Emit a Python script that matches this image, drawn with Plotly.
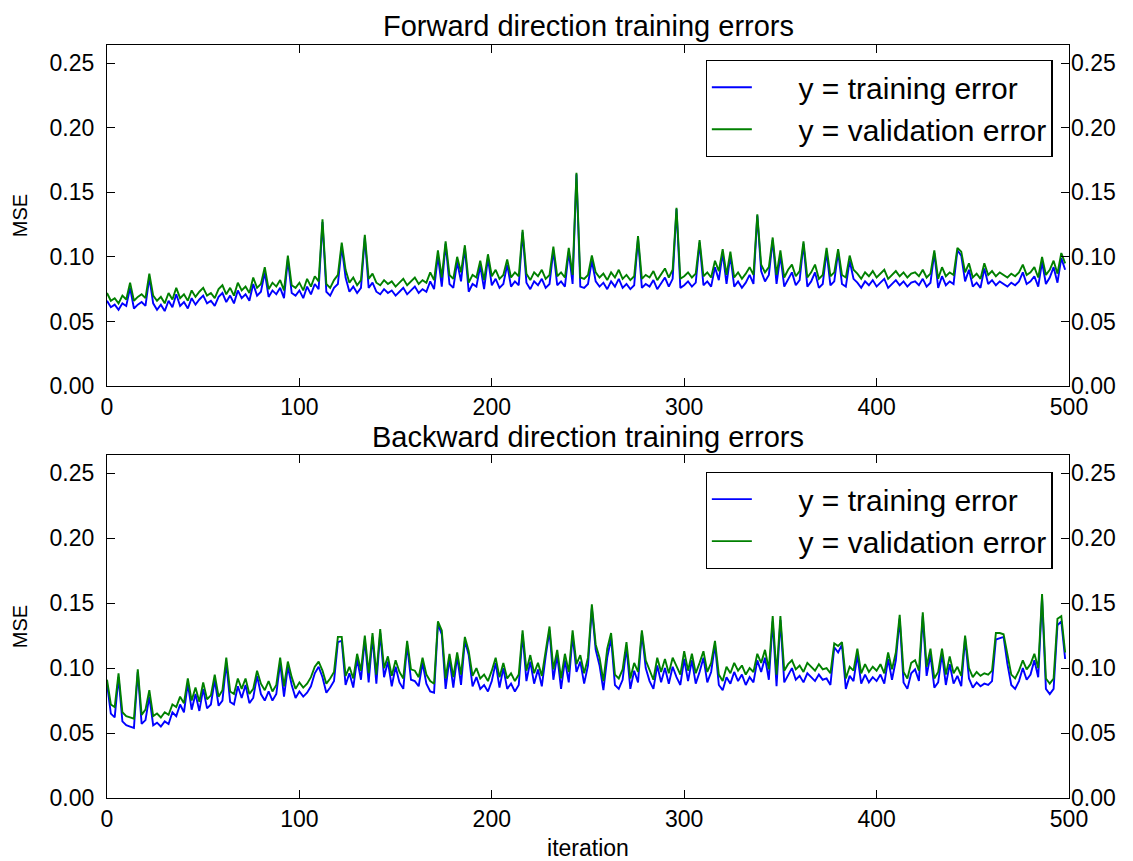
import plotly.graph_objects as go

iterations = list(range(0, 500, 2))

# Forward direction (top) – values in thousandths of MSE
fwd_val_milli = [
    72, 66, 68, 64, 70, 67, 80, 66, 69, 71,
    68, 87, 70, 66, 69, 64, 72, 67, 76, 68,
    71, 66, 74, 69, 73, 76, 70, 72, 68, 75,
    78, 71, 76, 70, 80, 74, 77, 72, 84, 76,
    79, 92, 75, 80, 77, 82, 74, 101, 78, 76,
    80, 74, 83, 77, 85, 81, 129, 79, 76, 82,
    86, 111, 90, 80, 84, 78, 82, 117, 83, 87,
    80, 78, 82, 79, 81, 77, 80, 83, 78, 81,
    84, 79, 82, 80, 88, 82, 105, 84, 112, 86,
    83, 100, 88, 109, 80, 86, 84, 97, 82, 102,
    85, 90, 83, 86, 98, 84, 88, 85, 121, 87,
    82, 88, 85, 90, 83, 86, 108, 85, 88, 84,
    107, 86, 165, 84, 83, 86, 101, 88, 84, 87,
    82, 88, 84, 90, 83, 86, 82, 85, 116, 83,
    86, 84, 89, 82, 87, 91, 84, 90, 138, 83,
    85, 88, 84, 87, 113, 85, 88, 84, 97, 89,
    106, 86, 104, 84, 88, 83, 87, 92, 86, 133,
    94, 88, 92, 115, 86, 105, 84, 90, 94, 85,
    89, 112, 84, 88, 94, 83, 86, 107, 85, 88,
    106, 86, 84, 101, 90, 87, 83, 88, 85, 89,
    84, 87, 90, 83, 86, 89, 85, 88, 84, 87,
    88, 85, 90, 84, 87, 105, 83, 92, 85, 88,
    86, 107, 104, 88, 95, 84, 87, 83, 95, 86,
    89, 85, 88, 86, 84, 87, 85, 88, 94, 86,
    88, 92, 84, 100, 86, 90, 97, 87, 103, 95,
]
fwd_train_milli = [
    66, 61, 63, 59, 64, 62, 76, 60, 63, 65,
    62, 84, 64, 59, 63, 58, 66, 61, 71, 62,
    65, 60, 68, 63, 67, 70, 64, 66, 62, 69,
    72, 65, 70, 64, 74, 68, 71, 66, 79, 70,
    73, 88, 69, 74, 71, 76, 68, 98, 72, 70,
    74, 68, 77, 71, 79, 75, 127, 73, 70, 76,
    79, 108, 84, 73, 77, 72, 76, 115, 76, 80,
    73, 71, 75, 72, 74, 70, 73, 76, 71, 74,
    77, 72, 75, 73, 81, 75, 101, 77, 110, 79,
    76, 96, 81, 107, 73, 79, 77, 93, 75, 99,
    78, 83, 76, 79, 94, 77, 81, 78, 119, 80,
    75, 81, 78, 83, 76, 79, 105, 78, 81, 77,
    104, 79, 164, 77, 76, 79, 97, 81, 77, 80,
    75, 81, 77, 83, 76, 79, 75, 78, 114, 76,
    79, 77, 82, 75, 80, 84, 77, 83, 137, 76,
    78, 81, 77, 80, 111, 78, 81, 77, 92, 82,
    103, 79, 101, 77, 81, 76, 80, 86, 79, 132,
    89, 81, 86, 113, 79, 101, 77, 83, 88, 78,
    82, 110, 77, 81, 88, 76, 79, 104, 78, 81,
    104, 79, 77, 97, 83, 80, 76, 81, 78, 82,
    77, 80, 83, 76, 79, 82, 78, 81, 77, 80,
    81, 78, 83, 77, 80, 103, 76, 85, 78, 81,
    79, 105, 101, 81, 90, 77, 80, 76, 91, 79,
    82, 78, 81, 79, 77, 80, 78, 81, 88, 79,
    81, 85, 77, 96, 79, 84, 92, 80, 99, 90,
]

# Backward direction (bottom) – values in thousandths of MSE
bwd_val_milli = [
    91, 72, 70, 96, 66, 63, 62, 61, 99, 64,
    68, 83, 63, 65, 62, 66, 64, 72, 70, 78,
    73, 92, 75, 85, 74, 89, 76, 79, 95, 78,
    83, 108, 82, 80, 92, 84, 92, 80, 84, 98,
    88, 83, 90, 82, 87, 108, 86, 105, 93, 84,
    89, 85, 88, 93, 101, 105, 98, 88, 92, 97,
    124, 124, 94, 101, 92, 111, 98, 125, 96, 127,
    95, 130, 100, 109, 94, 106, 97, 92, 121, 99,
    98, 93, 108, 95, 90, 88, 136, 129, 92, 111,
    93, 112, 95, 124, 113, 94, 100, 92, 95, 90,
    98, 108, 93, 104, 92, 96, 90, 95, 129, 98,
    110, 96, 104, 94, 113, 132, 99, 114, 92, 111,
    97, 129, 103, 110, 96, 108, 149, 118, 108, 90,
    115, 127, 95, 92, 99, 120, 92, 104, 97, 129,
    106, 98, 91, 108, 97, 107, 96, 108, 101, 95,
    113, 98, 111, 96, 104, 113, 97, 104, 121, 95,
    90, 101, 96, 104, 98, 102, 95, 100, 97, 111,
    104, 114, 99, 140, 95, 140, 98, 103, 106, 99,
    102, 97, 104, 101, 98, 103, 99, 100, 96, 119,
    117, 120, 92, 101, 98, 115, 96, 103, 97, 101,
    98, 103, 96, 112, 99, 112, 141, 97, 92, 104,
    106, 98, 143, 101, 115, 92, 97, 115, 95, 109,
    96, 101, 94, 125, 100, 93, 97, 94, 96, 95,
    98, 127, 127, 126, 110, 95, 92, 98, 106, 99,
    103, 111, 100, 157, 92, 88, 92, 138, 140, 112,
]
bwd_train_milli = [
    88, 65, 62, 93, 59, 56, 55, 54, 97, 57,
    60, 78, 56, 58, 55, 59, 57, 66, 63, 72,
    66, 88, 68, 80, 67, 84, 69, 72, 91, 71,
    75, 104, 74, 72, 86, 77, 87, 73, 77, 94,
    80, 75, 82, 75, 80, 104, 78, 101, 87, 77,
    82, 78, 81, 86, 96, 101, 93, 81, 85, 90,
    120, 121, 87, 96, 85, 107, 91, 122, 89, 124,
    88, 127, 93, 105, 86, 101, 89, 84, 118, 91,
    90, 86, 104, 88, 82, 81, 134, 126, 84, 107,
    85, 109, 87, 121, 110, 86, 93, 84, 87, 82,
    90, 104, 85, 100, 84, 88, 82, 87, 126, 90,
    105, 88, 99, 86, 109, 129, 91, 110, 84, 106,
    89, 125, 97, 105, 88, 102, 146, 114, 102, 83,
    108, 123, 87, 84, 91, 116, 84, 98, 89, 127,
    100, 90, 84, 102, 89, 100, 88, 101, 93, 87,
    107, 90, 106, 88, 97, 108, 89, 97, 118, 87,
    83, 93, 88, 97, 90, 95, 87, 93, 89, 106,
    97, 108, 91, 136, 86, 137, 89, 95, 100, 91,
    94, 89, 96, 93, 90, 95, 91, 92, 87, 116,
    112, 118, 84, 94, 90, 110, 88, 95, 89, 93,
    90, 95, 88, 107, 91, 106, 138, 89, 84, 96,
    99, 90, 140, 94, 110, 85, 89, 111, 87, 103,
    88, 94, 86, 123, 92, 85, 89, 86, 88, 87,
    90, 122, 123, 124, 103, 87, 84, 90, 100, 91,
    95, 106, 93, 154, 84, 80, 84, 133, 136, 107,
]

fwd_val = [v / 1000 for v in fwd_val_milli]
fwd_train = [v / 1000 for v in fwd_train_milli]
bwd_val = [v / 1000 for v in bwd_val_milli]
bwd_train = [v / 1000 for v in bwd_train_milli]

y_ticks = [0.0, 0.05, 0.10, 0.15, 0.20, 0.25]
y_tick_text = ["0.00", "0.05", "0.10", "0.15", "0.20", "0.25"]
x_ticks = [0, 100, 200, 300, 400, 500]
y_range = [0, 0.264]
x_range = [0, 500]

series_names = ["y = training error", "y = validation error"]
PAD = "\u00a0" * 5

BLUE = "#0000ff"
GREEN = "#008000"
FONT = "Liberation Sans, Arial, sans-serif"
LW = 1.9

fig = go.Figure()

# top subplot
fig.add_trace(go.Scatter(x=iterations, y=fwd_train, mode="lines", name=PAD + series_names[0],
                         line=dict(color=BLUE, width=LW), xaxis="x", yaxis="y", legend="legend"))
fig.add_trace(go.Scatter(x=iterations, y=fwd_val, mode="lines", name=PAD + series_names[1],
                         line=dict(color=GREEN, width=LW), xaxis="x", yaxis="y", legend="legend"))
fig.add_trace(go.Scatter(x=iterations, y=fwd_val, mode="lines", opacity=0, showlegend=False,
                         hoverinfo="skip", line=dict(width=0), xaxis="x", yaxis="y3"))
# bottom subplot
fig.add_trace(go.Scatter(x=iterations, y=bwd_train, mode="lines", name=PAD + series_names[0],
                         line=dict(color=BLUE, width=LW), xaxis="x2", yaxis="y2", legend="legend2"))
fig.add_trace(go.Scatter(x=iterations, y=bwd_val, mode="lines", name=PAD + series_names[1],
                         line=dict(color=GREEN, width=LW), xaxis="x2", yaxis="y2", legend="legend2"))
fig.add_trace(go.Scatter(x=iterations, y=bwd_val, mode="lines", opacity=0, showlegend=False,
                         hoverinfo="skip", line=dict(width=0), xaxis="x2", yaxis="y4"))

TICKFONT = dict(family=FONT, size=23, color="black")

xcommon = dict(range=x_range, tickvals=x_ticks, ticks="inside", ticklen=8, tickcolor="black",
               showline=True, linecolor="black", linewidth=1.2, mirror="ticks",
               showgrid=False, zeroline=False, tickfont=TICKFONT, automargin=False)
yleft = dict(range=y_range, tickvals=y_ticks, ticktext=y_tick_text, ticks="inside", ticklen=8,
             tickcolor="black", showline=True, linecolor="black", linewidth=1.2, mirror=True,
             showgrid=False, zeroline=False, tickfont=TICKFONT, ticklabelstandoff=7,
             automargin=False,
             title=dict(text="MSE", font=dict(family=FONT, size=20, color="black"), standoff=16))
yright = dict(range=y_range, tickvals=y_ticks, ticktext=y_tick_text, ticks="inside", ticklen=8,
              tickcolor="black", showline=False, side="right", showgrid=False, zeroline=False,
              tickfont=TICKFONT, ticklabelstandoff=1, automargin=False)

top_dom = [0.5471, 1.0]
bot_dom = [0.0, 0.4555]

legend_common = dict(bgcolor="white", bordercolor="black", borderwidth=1.2,
                     font=dict(family=FONT, size=30, color="black"),
                     xanchor="right", yanchor="top", itemwidth=40, tracegroupgap=2)

fig.update_layout(
    width=1133, height=861,
    margin=dict(l=107, r=64, t=45, b=63, autoexpand=False),
    paper_bgcolor="white", plot_bgcolor="white",
    xaxis=dict(**xcommon, anchor="y", domain=[0, 1]),
    yaxis=dict(**yleft, anchor="x", domain=top_dom),
    yaxis3=dict(**yright, overlaying="y", anchor="x"),
    xaxis2=dict(**xcommon, anchor="y2", domain=[0, 1],
                title=dict(text="iteration", font=dict(family=FONT, size=23, color="black"), standoff=14)),
    yaxis2=dict(**yleft, anchor="x2", domain=bot_dom),
    yaxis4=dict(**yright, overlaying="y2", anchor="x2"),
    legend=dict(**legend_common, x=0.983, y=0.98),
    legend2=dict(**legend_common, x=0.983, y=0.433),
    annotations=[
        dict(text="Forward direction training errors", x=0.5, y=1.0, xref="paper", yref="paper",
             xanchor="center", yanchor="bottom", yshift=1, showarrow=False,
             font=dict(family=FONT, size=29, color="black")),
        dict(text="Backward direction training errors", x=0.5, y=0.4555, xref="paper", yref="paper",
             xanchor="center", yanchor="bottom", yshift=0, showarrow=False,
             font=dict(family=FONT, size=29, color="black")),
    ],
)

fig.write_html("out.html")
